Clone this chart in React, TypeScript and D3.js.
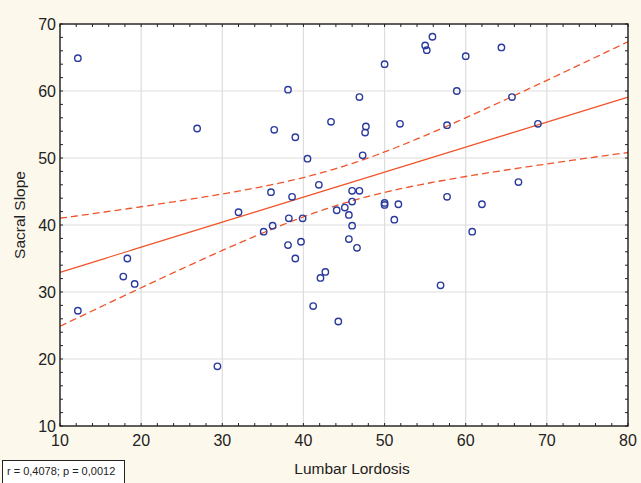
import { useEffect } from "react"
import * as d3 from "d3"

// Lumbar lordosis (x) vs sacral slope (y)
const lordosis = [
  12.2, 26.9, 32.0, 55.9, 55.0, 55.2, 50.0, 38.1, 46.9, 36.4,
  43.4, 47.7, 47.6, 51.9, 57.7, 39.0, 40.5, 47.3, 41.9, 36.0,
  38.6, 46.0, 46.9, 46.0, 50.0, 50.0, 51.7, 45.1, 44.1, 45.6,
  38.2, 39.9, 51.2, 57.7, 36.2, 46.0, 64.4, 60.0, 58.9, 65.7,
  68.9, 66.5, 62.0, 18.3, 17.8, 19.2, 12.2, 29.4, 35.1, 38.1,
  39.7, 39.0, 45.6, 46.6, 42.7, 42.1, 41.2, 44.3, 56.9, 60.8,
]
const sacralSlope = [
  64.9, 54.4, 41.9, 68.1, 66.8, 66.1, 64.0, 60.2, 59.1, 54.2,
  55.4, 54.7, 53.8, 55.1, 54.9, 53.1, 49.9, 50.4, 46.0, 44.9,
  44.2, 45.1, 45.1, 43.5, 43.3, 43.0, 43.1, 42.6, 42.2, 41.5,
  41.0, 41.0, 40.8, 44.2, 39.9, 39.9, 66.5, 65.2, 60.0, 59.1,
  55.1, 46.4, 43.1, 35.0, 32.3, 31.2, 27.2, 18.9, 39.0, 37.0,
  37.5, 35.0, 37.9, 36.6, 33.0, 32.1, 27.9, 25.6, 31.0, 39.0,
]
const xTicks = [10, 20, 30, 40, 50, 60, 70, 80]
const yTicks = [10, 20, 30, 40, 50, 60, 70]
const statsLabel = "r = 0,4078; p = 0,0012"

const width = 641
const height = 483
const margin = { top: 24, right: 13, bottom: 57, left: 60 }
const innerWidth = width - margin.left - margin.right
const innerHeight = height - margin.top - margin.bottom

const lineColor = "#f0542a"
const dotColor = "#2a3a9c"
const font = "'Liberation Sans', Arial, sans-serif"

export default function App() {
  useEffect(() => {
    document.body.style.margin = "0"
  }, [])

  const x = d3.scaleLinear().domain([10, 80]).range([0, innerWidth])
  const y = d3.scaleLinear().domain([10, 70]).range([innerHeight, 0])

  // least squares fit with 95% confidence band
  const n = lordosis.length
  const mx = d3.mean(lordosis) as number
  const my = d3.mean(sacralSlope) as number
  const sxx = d3.sum(lordosis, (v) => (v - mx) ** 2)
  const sxy = d3.sum(lordosis, (v, i) => (v - mx) * (sacralSlope[i] - my))
  const slope = sxy / sxx
  const icpt = my - slope * mx
  const sse = d3.sum(lordosis, (v, i) => (sacralSlope[i] - (icpt + slope * v)) ** 2)
  const se = Math.sqrt(sse / (n - 2))
  const tCrit = 2.0017
  const grid = d3.range(10, 80.01, 0.5)
  const fit = (v: number) => icpt + slope * v
  const half = (v: number) => tCrit * se * Math.sqrt(1 / n + (v - mx) ** 2 / sxx)

  const fitPath = d3.line<number>().x((v) => x(v)).y((v) => y(fit(v)))(grid)
  const upperPath = d3.line<number>().x((v) => x(v)).y((v) => y(fit(v) + half(v)))(grid)
  const lowerPath = d3.line<number>().x((v) => x(v)).y((v) => y(fit(v) - half(v)))(grid)

  const xMinor = d3.range(10, 80.01, 2)
  const yMinor = d3.range(10, 70.01, 2)

  return (
    <svg width={width} height={height} style={{ position: "absolute", left: 0, top: 0, fontFamily: font }}>
      <rect width={width} height={height} fill="#fdf8ec" />
      <g transform={`translate(${margin.left},${margin.top})`}>
        <rect width={innerWidth} height={innerHeight} fill="#fff" />
        {/* grid */}
        {xTicks.map((t) => (
          <line key={"gx" + t} x1={x(t)} x2={x(t)} y1={0} y2={innerHeight} stroke="#dddddd" strokeWidth={1.2} />
        ))}
        {yTicks.map((t) => (
          <line key={"gy" + t} x1={0} x2={innerWidth} y1={y(t)} y2={y(t)} stroke="#dddddd" strokeWidth={1.2} />
        ))}

        {/* fit and confidence band */}
        <path d={upperPath ?? ""} fill="none" stroke={lineColor} strokeWidth={1.3} strokeDasharray="7,4" />
        <path d={lowerPath ?? ""} fill="none" stroke={lineColor} strokeWidth={1.3} strokeDasharray="7,4" />
        <path d={fitPath ?? ""} fill="none" stroke={lineColor} strokeWidth={1.3} />

        {/* points */}
        {lordosis.map((v, i) => (
          <circle key={i} cx={x(v)} cy={y(sacralSlope[i])} r={3.2} fill="none" stroke={dotColor} strokeWidth={1.4} />
        ))}

        {/* frame and inward ticks */}
        <rect width={innerWidth} height={innerHeight} fill="none" stroke="#222" strokeWidth={1.4} />
        {xMinor.map((t) => (
          <g key={"tx" + t}>
            <line x1={x(t)} x2={x(t)} y1={innerHeight} y2={innerHeight - 3} stroke="#222" />
            <line x1={x(t)} x2={x(t)} y1={0} y2={3} stroke="#222" />
          </g>
        ))}
        {yMinor.map((t) => (
          <g key={"ty" + t}>
            <line x1={0} x2={3} y1={y(t)} y2={y(t)} stroke="#222" />
            <line x1={innerWidth} x2={innerWidth - 3} y1={y(t)} y2={y(t)} stroke="#222" />
          </g>
        ))}

        {/* tick labels */}
        {xTicks.map((t) => (
          <text key={"lx" + t} x={x(t)} y={innerHeight + 20} textAnchor="middle" fontSize={16} fill="#222">
            {t}
          </text>
        ))}
        {yTicks.map((t) => (
          <text key={"ly" + t} x={-4} y={y(t) + 5.5} textAnchor="end" fontSize={16} fill="#222">
            {t}
          </text>
        ))}
      </g>

      <text x={352} y={474} textAnchor="middle" fontSize={15.5} fill="#222">
        Lumbar Lordosis
      </text>
      <text transform="translate(24.5,215) rotate(-90)" textAnchor="middle" fontSize={15.5} fill="#222">
        Sacral Slope
      </text>

      <rect x={2.5} y={460.5} width={122} height={30} fill="#fff" stroke="#222" strokeWidth={1} />
      <text x={7} y={475} fontSize={11} fill="#222">
        {statsLabel}
      </text>
    </svg>
  )
}
